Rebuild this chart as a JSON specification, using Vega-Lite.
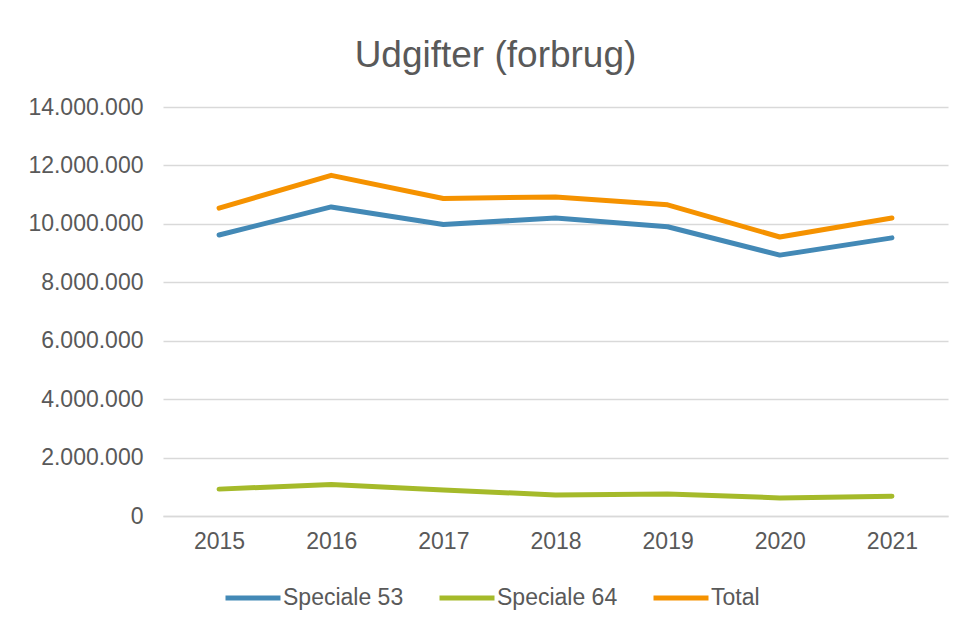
{
  "$schema": "https://vega.github.io/schema/vega-lite/v6.json",
  "autosize": {"type": "none"},
  "width": 785,
  "height": 409,
  "padding": {"left": 163, "top": 107, "right": 17, "bottom": 109},
  "background": "white",
  "title": {
    "text": "Udgifter (forbrug)",
    "anchor": "middle",
    "frame": "group",
    "dx": -60,
    "fontSize": 37,
    "font": "Liberation Sans",
    "fontWeight": "normal",
    "color": "#595959",
    "offset": 21
  },
  "data": {
    "values": [
      {"year": "2015", "series": "Speciale 53", "value": 9620000},
      {"year": "2016", "series": "Speciale 53", "value": 10580000},
      {"year": "2017", "series": "Speciale 53", "value": 9980000},
      {"year": "2018", "series": "Speciale 53", "value": 10200000},
      {"year": "2019", "series": "Speciale 53", "value": 9900000},
      {"year": "2020", "series": "Speciale 53", "value": 8930000},
      {"year": "2021", "series": "Speciale 53", "value": 9520000},
      {"year": "2015", "series": "Speciale 64", "value": 920000},
      {"year": "2016", "series": "Speciale 64", "value": 1080000},
      {"year": "2017", "series": "Speciale 64", "value": 890000},
      {"year": "2018", "series": "Speciale 64", "value": 720000},
      {"year": "2019", "series": "Speciale 64", "value": 750000},
      {"year": "2020", "series": "Speciale 64", "value": 620000},
      {"year": "2021", "series": "Speciale 64", "value": 680000},
      {"year": "2015", "series": "Total", "value": 10540000},
      {"year": "2016", "series": "Total", "value": 11660000},
      {"year": "2017", "series": "Total", "value": 10870000},
      {"year": "2018", "series": "Total", "value": 10920000},
      {"year": "2019", "series": "Total", "value": 10650000},
      {"year": "2020", "series": "Total", "value": 9550000},
      {"year": "2021", "series": "Total", "value": 10200000}
    ]
  },
  "mark": {"type": "line", "strokeWidth": 5, "strokeCap": "round", "strokeJoin": "round"},
  "encoding": {
    "x": {
      "field": "year",
      "type": "ordinal",
      "scale": {"type": "point", "padding": 0.5},
      "axis": {
        "title": null,
        "labelAngle": 0,
        "ticks": false,
        "domain": true,
        "domainColor": "#D9D9D9",
        "domainWidth": 1.5,
        "grid": false,
        "labelPadding": 14,
        "labelFontSize": 23,
        "labelFont": "Liberation Sans",
        "labelColor": "#595959"
      }
    },
    "y": {
      "field": "value",
      "type": "quantitative",
      "scale": {"domain": [0, 14000000], "nice": false},
      "axis": {
        "title": null,
        "values": [0, 2000000, 4000000, 6000000, 8000000, 10000000, 12000000, 14000000],
        "format": ",.0f",
        "ticks": false,
        "domain": false,
        "grid": true,
        "gridColor": "#D9D9D9",
        "gridWidth": 1.5,
        "labelPadding": 20,
        "labelFontSize": 23,
        "labelFont": "Liberation Sans",
        "labelColor": "#595959"
      }
    },
    "color": {
      "field": "series",
      "type": "nominal",
      "scale": {
        "domain": ["Speciale 53", "Speciale 64", "Total"],
        "range": ["#4389B6", "#A5BA2A", "#F59200"]
      },
      "legend": {
        "title": null,
        "orient": "none",
        "direction": "horizontal",
        "legendX": 60,
        "legendY": 461,
        "symbolType": "stroke",
        "symbolSize": 3025,
        "symbolStrokeWidth": 5,
        "labelOffset": 0,
        "columnPadding": 25,
        "labelFontSize": 23,
        "labelFont": "Liberation Sans",
        "labelColor": "#595959",
        "labelLimit": 300
      }
    }
  },
  "config": {
    "locale": {
      "number": {"decimal": ",", "thousands": ".", "grouping": [3], "currency": ["", " kr."]}
    },
    "view": {"stroke": null}
  }
}
